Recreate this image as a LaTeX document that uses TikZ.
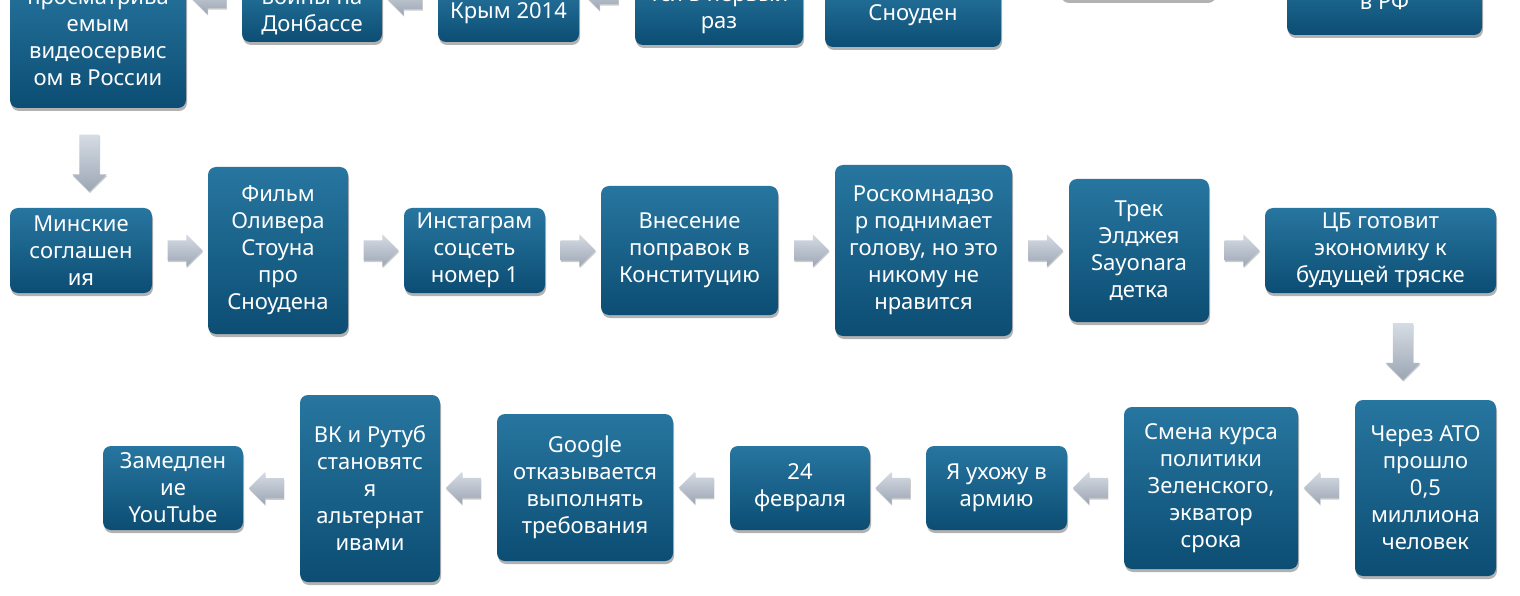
\documentclass[tikz,border=0pt]{standalone}
\usepackage{fontspec}
\setmainfont{Noto Sans}
\usetikzlibrary{shapes.arrows,shadows,calc}

\definecolor{boxtop}{HTML}{2776A0}
\definecolor{boxbot}{HTML}{0C4D73}
\definecolor{arrtop}{HTML}{D6DCE4}
\definecolor{arrbot}{HTML}{9CA6B4}

\tikzset{
  stage/.style={rounded corners=8pt, top color=boxtop, bottom color=boxbot,
    draw=none, text=white, align=center, inner sep=0pt,
    font=\fontsize{22}{27}\selectfont,
    drop shadow={opacity=0.3, fill=black, shadow xshift=1pt, shadow yshift=-3pt}},
  flowarrow/.style={single arrow, single arrow head extend=6pt,
    minimum height=35pt, inner sep=0pt,
    top color=arrtop, bottom color=arrbot, draw=none,
    drop shadow={opacity=0.2, fill=black, shadow xshift=0.5pt, shadow yshift=-1.5pt}},
  goleft/.style={flowarrow, shape border rotate=180},
  goright/.style={flowarrow},
  godown/.style={flowarrow, shape border rotate=270, minimum height=57pt, single arrow head extend=7pt},
}
\newcommand{\arrbody}{\phantom{\rule{20pt}{20pt}}}

\begin{document}
\begin{tikzpicture}[x=1pt,y=-1pt]
\useasboundingbox (0,0) rectangle (1520,596);
\fill[white] (0,0) rectangle (1520,596);
\clip (0,0) rectangle (1520,596);

% row 1 (cut at top)
\node[stage, minimum width=176pt, minimum height=137pt] (a1) at (98,39.5) {просматрива\\емым\\видеосервис\\ом в России};
\node[stage, minimum width=140pt, minimum height=60pt] (a2) at (312,12) {войны на\\Донбассе};
\node[stage, minimum width=141pt, minimum height=58pt] (a3) at (508.5,13) {Крым 2014};
\node[stage, minimum width=168pt, minimum height=71pt] (a4) at (719,9.5) {тся в первый\\раз};
\node[stage, minimum width=176pt, minimum height=64pt] (a5) at (913,15) {Сноуден};
\node[stage, minimum width=155pt, minimum height=60pt] (a6) at (1137.5,-30) {};
\node[stage, minimum width=195pt, minimum height=66pt] (a7) at (1384.5,2) {в РФ};

\node[goleft] (p1) at (214,-2) {\arrbody};
\node[goleft] (p2) at (410,-1) {\arrbody};
\node[goleft] (p3) at (606,-6) {\arrbody};

% row 2
\node[stage, minimum width=142pt, minimum height=85pt]  (b1) at (81,250.5) {Минские\\соглашен\\ия};
\node[stage, minimum width=140pt, minimum height=167pt] (b2) at (278,250.5) {Фильм\\Оливера\\Стоуна\\про\\Сноудена};
\node[stage, minimum width=141pt, minimum height=85pt]  (b3) at (474.5,250.5) {Инстаграм\\соцсеть\\номер 1};
\node[stage, minimum width=177pt, minimum height=129pt] (b4) at (689.5,250.5) {Внесение\\поправок в\\Конституцию};
\node[stage, minimum width=177pt, minimum height=171pt] (b5) at (923.5,250.5) {Роскомнадзо\\р поднимает\\голову, но это\\никому не\\нравится};
\node[stage, minimum width=140pt, minimum height=143pt] (b6) at (1139,250.5) {Трек\\Элджея\\Sayonara\\детка};
\node[stage, minimum width=231pt, minimum height=85pt]  (b7) at (1380.5,250.5) {ЦБ готовит\\экономику к\\будущей тряске};

% row 3
\node[stage, minimum width=141pt, minimum height=176pt] (c1) at (1425.5,488) {Через АТО\\прошло\\0,5\\миллиона\\человек};
\node[stage, minimum width=174pt, minimum height=162pt] (c2) at (1211,488) {Смена курса\\политики\\Зеленского,\\экватор\\срока};
\node[stage, minimum width=141pt, minimum height=84pt]  (c3) at (996.5,488) {Я ухожу в\\армию};
\node[stage, minimum width=140pt, minimum height=84pt]  (c4) at (800,488) {24\\февраля};
\node[stage, minimum width=176pt, minimum height=147pt] (c5) at (585,487.5) {Google\\отказывается\\выполнять\\требования};
\node[stage, minimum width=140pt, minimum height=187pt] (c6) at (370,488.5) {ВК и Рутуб\\становятс\\я\\альтернат\\ивами};
\node[stage, minimum width=140pt, minimum height=84pt]  (c7) at (173,488) {Замедлен\\ие\\YouTube};

% connectors
\node[godown] (d1) at ($(a1.south)!0.5!(b1.north)$) {\arrbody};
\node[goright] (q1) at ($(b1.east)!0.5!(b2.west)$) {\arrbody};
\node[goright] (q2) at ($(b2.east)!0.5!(b3.west)$) {\arrbody};
\node[goright] (q3) at ($(b3.east)!0.5!(b4.west)$) {\arrbody};
\node[goright] (q4) at ($(b4.east)!0.5!(b5.west)$) {\arrbody};
\node[goright] (q5) at ($(b5.east)!0.5!(b6.west)$) {\arrbody};
\node[goright] (q6) at ($(b6.east)!0.5!(b7.west)$) {\arrbody};
\node[godown] (d2) at ($(b7.south)!0.5!(c1.north)$) {\arrbody};
\node[goleft] (r1) at ($(c1.west)!0.5!(c2.east)$) {\arrbody};
\node[goleft] (r2) at ($(c2.west)!0.5!(c3.east)$) {\arrbody};
\node[goleft] (r3) at ($(c3.west)!0.5!(c4.east)$) {\arrbody};
\node[goleft] (r4) at ($(c4.west)!0.5!(c5.east)$) {\arrbody};
\node[goleft] (r5) at ($(c5.west)!0.5!(c6.east)$) {\arrbody};
\node[goleft] (r6) at ($(c6.west)!0.5!(c7.east)$) {\arrbody};
\end{tikzpicture}
\end{document}
